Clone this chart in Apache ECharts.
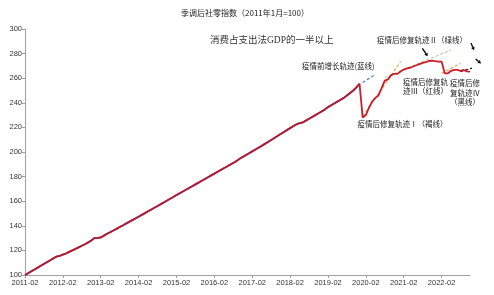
<!DOCTYPE html>
<html>
<head>
<meta charset="utf-8">
<script src="https://cdn.jsdelivr.net/npm/echarts@6/dist/echarts.min.js"></script>
<style>html,body{margin:0;padding:0;background:#fff;}#c{width:494px;height:295px;}</style>
</head>
<body>
<div id="c"></div>
<script>
// ---- data ----
const startYear = 2011, startMonth = 2, monthCount = 142;
const monthLabels = [];
for (let i = 0; i < monthCount; i++) {
  const t = startMonth - 1 + i;
  const y = startYear + Math.floor(t / 12), m = (t % 12) + 1;
  monthLabels.push(y + '-' + (m < 10 ? '0' + m : m));
}
const retailIndex = [
  100, 101.5, 103, 104.5, 106, 107.5, 109, 110.5, 112, 113.5, 115, 115.5,
  116.5, 117.5, 118.8, 120, 121.2, 122.5, 123.8, 125, 126.5, 128, 130, 130.2,
  130.5, 132, 133.5, 134.8, 136.2, 137.5, 139, 140.3, 141.8, 143.2, 144.6, 146,
  147.4, 148.9, 150.3, 151.8, 153.2, 154.7, 156.1, 157.6, 159, 160.5, 162, 163.4,
  165, 166.4, 167.9, 169.3, 170.8, 172.2, 173.7, 175.1, 176.6, 178, 179.5, 181,
  182.4, 183.9, 185.3, 186.8, 188.2, 189.7, 191.1, 192.6, 194.5, 196, 197.5, 199,
  200.5, 202, 203.5, 205, 206.6, 208.2, 209.8, 211.4, 213, 214.6, 216.2, 217.8,
  219.4, 221, 222.5, 223.5, 224, 225.5, 227, 228.5, 230, 231.5, 233, 234.5,
  236.5, 238, 239.5, 241, 242.5, 244, 246, 248, 250, 252.5, 255.5, 228,
  230, 236, 241, 244, 246, 252, 258, 259, 262.5, 263.5, 263.5, 265.5,
  267, 268, 268.5, 269.5, 270.5, 271.5, 272.5, 273, 274, 274.2, 273.8, 273.5,
  273.4, 264, 264, 266, 266.8, 266.7, 266, 266.7, 265.5, 265.3
];
const trendBlue   = [['2020-01', 256.5], ['2020-05', 263]];
const trendBrown1 = [['2020-01', 229], ['2021-01', 273.5]];
const trendGreen  = [['2020-08', 260.5], ['2022-05', 283]];
const trendBrown2 = [['2022-02', 264], ['2022-08', 272]];
const trendBlack  = [['2022-08', 265.5], ['2023-03', 270.7]];
const arrowMarks = [
  [[125.9, 284.3], [127.6, 277.8]],
  [[141.3, 288.6], [142.3, 282.8]],
  [[142.8, 275.6], [144.5, 271.9]]
];
const yTicks = { min: 100, max: 300, step: 20 };

// ---- helpers ----
function monthIndex(s) {
  const [y, m] = s.split('-').map(Number);
  return (y - startYear) * 12 + (m - startMonth);
}
function trendSeries(pts, color, z) {
  return {
    type: 'line', symbol: 'none', clip: false, silent: true, z: z || 3,
    data: pts.map(p => [monthIndex(p[0]), p[1]]),
    lineStyle: { color: color, width: 1.1, type: [3, 2] }
  };
}

const chart = echarts.init(document.getElementById('c'), null, { renderer: 'canvas' });
const cjk = "'Noto Sans CJK SC', 'Liberation Sans', sans-serif";
const lab = "'Liberation Sans', Arial, sans-serif";
const annoFont = '7.5px ' + cjk;

const option = {
  animation: false,
  backgroundColor: '#fff',
  grid: { left: 25, right: 24, top: 29, bottom: 20 },
  xAxis: {
    type: 'value', min: 0, max: monthCount - 1, interval: 12,
    axisLine: { lineStyle: { color: '#a0a0a0', width: 1 } },
    axisTick: { show: true, length: 3, lineStyle: { color: '#a0a0a0' } },
    splitLine: { show: false },
    axisLabel: {
      fontSize: 7.5, color: '#333', fontFamily: lab, margin: 4,
      showMaxLabel: false,
      formatter: v => (v % 12 === 0 && monthLabels[v] ? monthLabels[v] : '')
    }
  },
  yAxis: {
    type: 'value', min: yTicks.min, max: yTicks.max, interval: yTicks.step,
    axisLine: { show: true, lineStyle: { color: '#a0a0a0', width: 1 } },
    axisTick: { show: true, length: 3, lineStyle: { color: '#a0a0a0' } },
    splitLine: { show: false },
    axisLabel: { fontSize: 7.5, color: '#333', fontFamily: lab, margin: 3 }
  },
  series: [
    trendSeries(trendBlue, '#4472c4'),
    trendSeries(trendBrown1, '#e3a03c'),
    trendSeries(trendGreen, '#a9d18e'),
    trendSeries(trendBrown2, '#e3963c'),
    trendSeries(trendBlack, '#000'),
    {
      type: 'line', symbol: 'none', z: 2,
      data: retailIndex.slice(0, 107).map((v, i) => [i, v]),
      lineStyle: { color: '#4472c4', width: 1.9 }
    },
    {
      type: 'line', symbol: 'none', z: 4,
      data: retailIndex.map((v, i) => [i, v]),
      lineStyle: { color: '#c8101e', width: 1.8, opacity: 0.95 }
    }
  ],
  graphic: [
    { type: 'text', x: 245, y: 13, style: { text: '季调后社零指数（2011年1月=100）', font: '8px ' + cjk, fill: '#222', textAlign: 'center', textVerticalAlign: 'middle' } },
    { type: 'text', x: 210, y: 40, style: { text: '消费占支出法GDP的一半以上', font: "9.5px 'Liberation Serif', 'Noto Sans CJK SC', serif", fill: '#333', textAlign: 'left', textVerticalAlign: 'middle' } },
    { type: 'text', x: 302, y: 66, style: { text: '疫情前增长轨迹(蓝线)', font: annoFont, fill: '#222', textAlign: 'left', textVerticalAlign: 'middle' } },
    { type: 'text', x: 377, y: 40, style: { text: '疫情后修复轨迹Ⅱ（绿线）', font: annoFont, fill: '#222', textAlign: 'left', textVerticalAlign: 'middle' } },
    { type: 'text', x: 403, y: 77, style: { text: '疫情后修复轨\n迹Ⅲ（红线）', font: annoFont, lineHeight: 9.5, fill: '#222', textAlign: 'left', textVerticalAlign: 'top' } },
    { type: 'text', x: 465, y: 79, style: { text: '疫情后修\n复轨迹Ⅳ\n（黑线）', font: annoFont, lineHeight: 9.3, fill: '#222', textAlign: 'center', textVerticalAlign: 'top' } },
    { type: 'text', x: 357.5, y: 124, style: { text: '疫情后修复轨迹Ⅰ（褐线）', font: annoFont, fill: '#222', textAlign: 'left', textVerticalAlign: 'middle' } }
  ]
};
chart.setOption(option);

// arrows placed through the chart's own coordinate system
const toPx = p => chart.convertToPixel({ xAxisIndex: 0, yAxisIndex: 0 }, p);
const arrowGraphics = [];
arrowMarks.forEach(a => {
  const p0 = toPx(a[0]), p1 = toPx(a[1]);
  const dx = p1[0] - p0[0], dy = p1[1] - p0[1];
  const len = Math.sqrt(dx * dx + dy * dy), ux = dx / len, uy = dy / len;
  const hl = 3.2, hw = 1.9;
  const bx = p1[0] - ux * hl, by = p1[1] - uy * hl;
  arrowGraphics.push({ type: 'line', shape: { x1: p0[0], y1: p0[1], x2: bx, y2: by }, style: { stroke: '#000', lineWidth: 1.3 } });
  arrowGraphics.push({ type: 'polygon', shape: { points: [[p1[0], p1[1]], [bx - uy * hw, by + ux * hw], [bx + uy * hw, by - ux * hw]] }, style: { fill: '#000' } });
});
chart.setOption({ graphic: option.graphic.concat(arrowGraphics) });
</script>
</body>
</html>
